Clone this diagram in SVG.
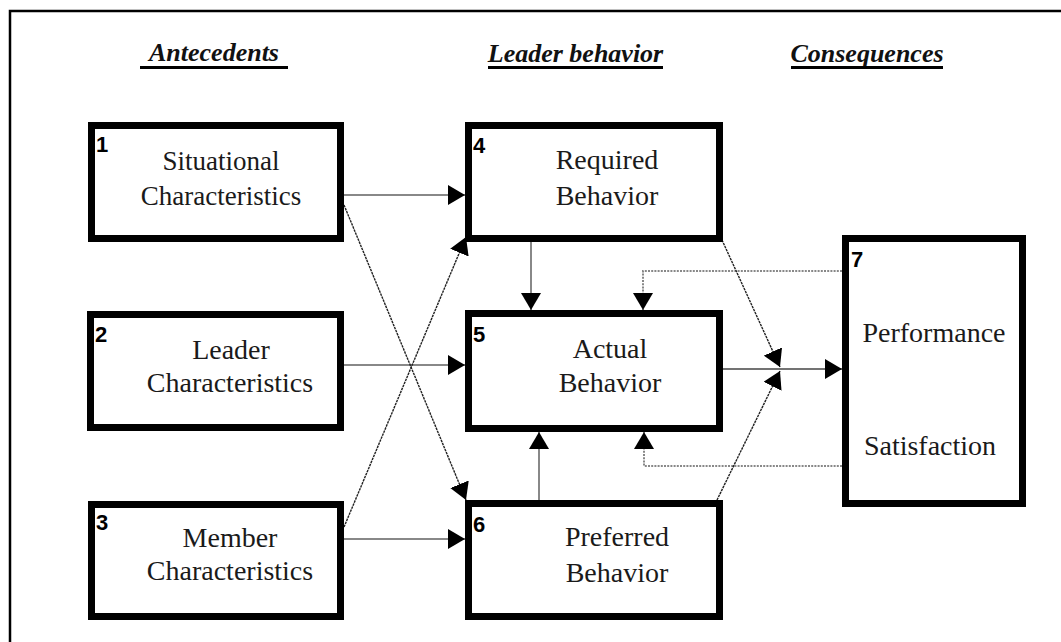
<svg xmlns="http://www.w3.org/2000/svg" width="1061" height="642" viewBox="0 0 1061 642">
<style>
.box{fill:#fff;stroke:#000;stroke-width:7}
.lbl{font-family:'Liberation Serif','Times New Roman',Times,'DejaVu Serif',serif;font-size:28px;fill:#1a1a1a;text-anchor:middle}
.sm{font-size:27px}
.num{font-family:'Liberation Sans',Arial,sans-serif;font-size:22px;font-weight:bold;fill:#000}
.hdr{font-family:'Liberation Serif','Times New Roman',Times,'DejaVu Serif',serif;font-size:26px;font-weight:bold;font-style:italic;fill:#111;text-anchor:middle}
.ul{stroke:#000;stroke-width:3}
.gray{fill:none;stroke:#888;stroke-width:2}
.diag{fill:none;stroke:#222;stroke-width:1.4;stroke-dasharray:2.5 0.8}
.dot{fill:none;stroke:#888;stroke-width:2;stroke-dasharray:2 1.2}
.dark{fill:none;stroke:#444;stroke-width:1.6}
</style>
<defs>
<marker id="ah" markerUnits="userSpaceOnUse" markerWidth="18" markerHeight="20" refX="17" refY="10" orient="auto">
<path d="M0,0 L17,10 L0,20 z" fill="#000"/>
</marker>
</defs>
<rect width="1061" height="642" fill="#fff"/>
<path d="M10,642 V11 H1061" fill="none" stroke="#000" stroke-width="2.5"/>
<g id="headers">
<text class="hdr" x="214" y="61">Antecedents</text>
<line class="ul" x1="140" y1="67.5" x2="288" y2="67.5"/>
<text class="hdr" x="575.5" y="62">Leader behavior</text>
<line class="ul" x1="488" y1="67.5" x2="663" y2="67.5"/>
<text class="hdr" x="867" y="62">Consequences</text>
<line class="ul" x1="791" y1="67.5" x2="943" y2="67.5"/>
</g>
<g id="connectors">
<line class="gray" x1="344" y1="195" x2="465" y2="195" marker-end="url(#ah)"/>
<line class="gray" x1="344" y1="365" x2="465" y2="365" marker-end="url(#ah)"/>
<line class="gray" x1="344" y1="539" x2="465" y2="539" marker-end="url(#ah)"/>
<line class="diag" x1="344" y1="205" x2="466" y2="500" marker-end="url(#ah)"/>
<line class="diag" x1="344" y1="527" x2="466" y2="237" marker-end="url(#ah)"/>
<line class="gray" x1="531" y1="242" x2="531" y2="310" marker-end="url(#ah)"/>
<line class="gray" x1="539" y1="500" x2="539" y2="432" marker-end="url(#ah)"/>
<path class="dot" d="M842,271 H643 V310" marker-end="url(#ah)"/>
<path class="dot" d="M842,466 H644 V432" marker-end="url(#ah)"/>
<line class="dark" x1="723" y1="369" x2="842" y2="369" marker-end="url(#ah)"/>
<line class="diag" x1="722" y1="240" x2="780" y2="367" marker-end="url(#ah)"/>
<line class="diag" x1="717" y1="500" x2="780" y2="371" marker-end="url(#ah)"/>
</g>
<g id="node1">
<rect class="box" x="91.5" y="125.5" width="249" height="113"/>
<text class="num" x="96" y="152">1</text>
<text class="lbl sm" x="221" y="170">Situational</text>
<text class="lbl sm" x="221" y="205">Characteristics</text>
</g>
<g id="node2">
<rect class="box" x="90.5" y="314.5" width="250" height="113"/>
<text class="num" x="95" y="342">2</text>
<text class="lbl" x="231" y="359">Leader</text>
<text class="lbl" x="230" y="392">Characteristics</text>
</g>
<g id="node3">
<rect class="box" x="91.5" y="504.5" width="249" height="112"/>
<text class="num" x="96" y="530">3</text>
<text class="lbl" x="230" y="547">Member</text>
<text class="lbl" x="230" y="580">Characteristics</text>
</g>
<g id="node4">
<rect class="box" x="468.5" y="125.5" width="251" height="113"/>
<text class="num" x="473" y="153">4</text>
<text class="lbl" x="607" y="169">Required</text>
<text class="lbl" x="607" y="205">Behavior</text>
</g>
<g id="node5">
<rect class="box" x="468.5" y="313.5" width="251" height="115"/>
<text class="num" x="473" y="342">5</text>
<text class="lbl" x="610" y="358">Actual</text>
<text class="lbl" x="610" y="392">Behavior</text>
</g>
<g id="node6">
<rect class="box" x="468.5" y="503.5" width="251" height="113"/>
<text class="num" x="473" y="532">6</text>
<text class="lbl" x="617" y="546">Preferred</text>
<text class="lbl" x="617" y="582">Behavior</text>
</g>
<g id="node7">
<rect class="box" x="845.5" y="238.5" width="177" height="265"/>
<text class="num" x="851" y="267">7</text>
<text class="lbl" x="934" y="342">Performance</text>
<text class="lbl" x="930" y="455">Satisfaction</text>
</g>
</svg>
